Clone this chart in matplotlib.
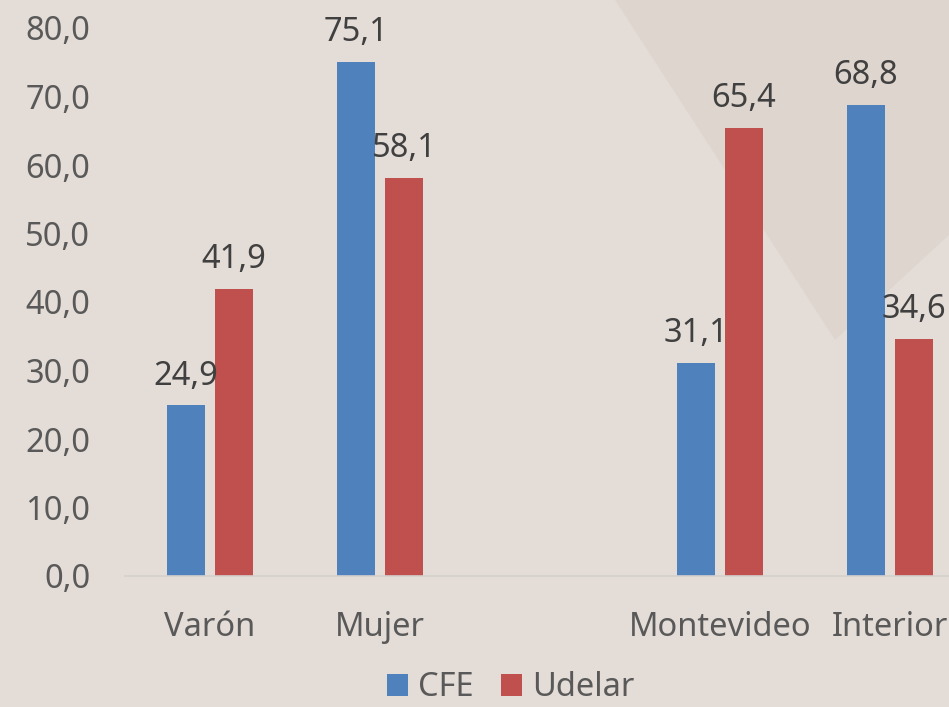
import matplotlib
matplotlib.use("Agg")
import matplotlib.pyplot as plt
from matplotlib.patches import Polygon
import numpy as np

# ---------------------------------------------------------------
# data
categories = ["Varón", "Mujer", "", "Montevideo", "Interior"]
cfe = [24.9, 75.1, None, 31.1, 68.8]
udelar = [41.9, 58.1, None, 65.4, 34.6]
series_names = ["CFE", "Udelar"]
y_ticks = [0, 10, 20, 30, 40, 50, 60, 70, 80]

BLUE = "#4f81bd"
RED = "#c0504d"
BG = "#e4dcd7"
TICK_COLOR = "#595959"
LABEL_COLOR = "#404040"

plt.rcParams['font.family'] = ['Noto Sans', 'DejaVu Sans']
FS = 23.5

# ---------------------------------------------------------------
fig = plt.figure(figsize=(9.49, 7.07), dpi=100, facecolor=BG)

# decorative paper shape in the top-right corner (background only)
paper = Polygon([(615 / 949, 1.0), (835 / 949, 1 - 340 / 707),
                 (949 / 949, 1 - 235 / 707), (949 / 949, 1.0)],
                closed=True, transform=fig.transFigure, facecolor="#ddd5ce",
                edgecolor="none", zorder=0)
fig.patches.append(paper)
for (x0, y0, x1, y1) in [(640, 0, 740, 105), (680, 0, 790, 100), (715, 0, 850, 90), (890, 0, 949, 60)]:
    fig.add_artist(plt.Line2D([x0 / 949, x1 / 949], [1 - y0 / 707, 1 - y1 / 707],
                              transform=fig.transFigure, color="#d2c6b8", lw=0.8, alpha=0.8, zorder=0))

ax = fig.add_axes([125 / 949, 1 - 576 / 707, 1 - 125 / 949, (576 - 28) / 707])
ax.set_facecolor("none")
ax.set_zorder(2)

x = np.arange(len(categories))
w = 0.2235
off = 0.141

for vals, dx, color, name in [(cfe, -off, BLUE, series_names[0]), (udelar, off, RED, series_names[1])]:
    xs = [xi + dx for xi, v in zip(x, vals) if v is not None]
    vs = [v for v in vals if v is not None]
    ax.bar(xs, vs, width=w, color=color, label=name, zorder=2)
    for xi, v in zip(xs, vs):
        ax.annotate(f"{v:.1f}".replace(".", ","), (xi, v), xytext=(0, 15),
                    textcoords="offset points", ha="center", va="baseline",
                    fontsize=FS, color=LABEL_COLOR, annotation_clip=False, zorder=3)

ax.set_xlim(-0.5, (949 - 125) / 170 - 0.5)
ax.set_ylim(0, 80)
ax.set_xticks(x)
ax.set_xticklabels(categories)
ax.set_yticks(y_ticks)
ax.set_yticklabels([f"{t:.1f}".replace(".", ",") for t in y_ticks])
ax.tick_params(axis="both", length=0, labelsize=FS, labelcolor=TICK_COLOR)
ax.tick_params(axis="y", pad=25)
ax.tick_params(axis="x", pad=25)

for s in ["top", "right", "left"]:
    ax.spines[s].set_visible(False)
ax.spines["bottom"].set_color("#d4d0cd")
ax.spines["bottom"].set_linewidth(1.2)

fig.legend(loc="center", bbox_to_anchor=(511 / 949, 1 - 688 / 707), ncol=2, frameon=False,
           fontsize=FS, handlelength=0.64, handleheight=0.64, handletextpad=0.3,
           columnspacing=0.85, labelcolor=TICK_COLOR)

fig.savefig("out.png", dpi=100, facecolor=BG)
